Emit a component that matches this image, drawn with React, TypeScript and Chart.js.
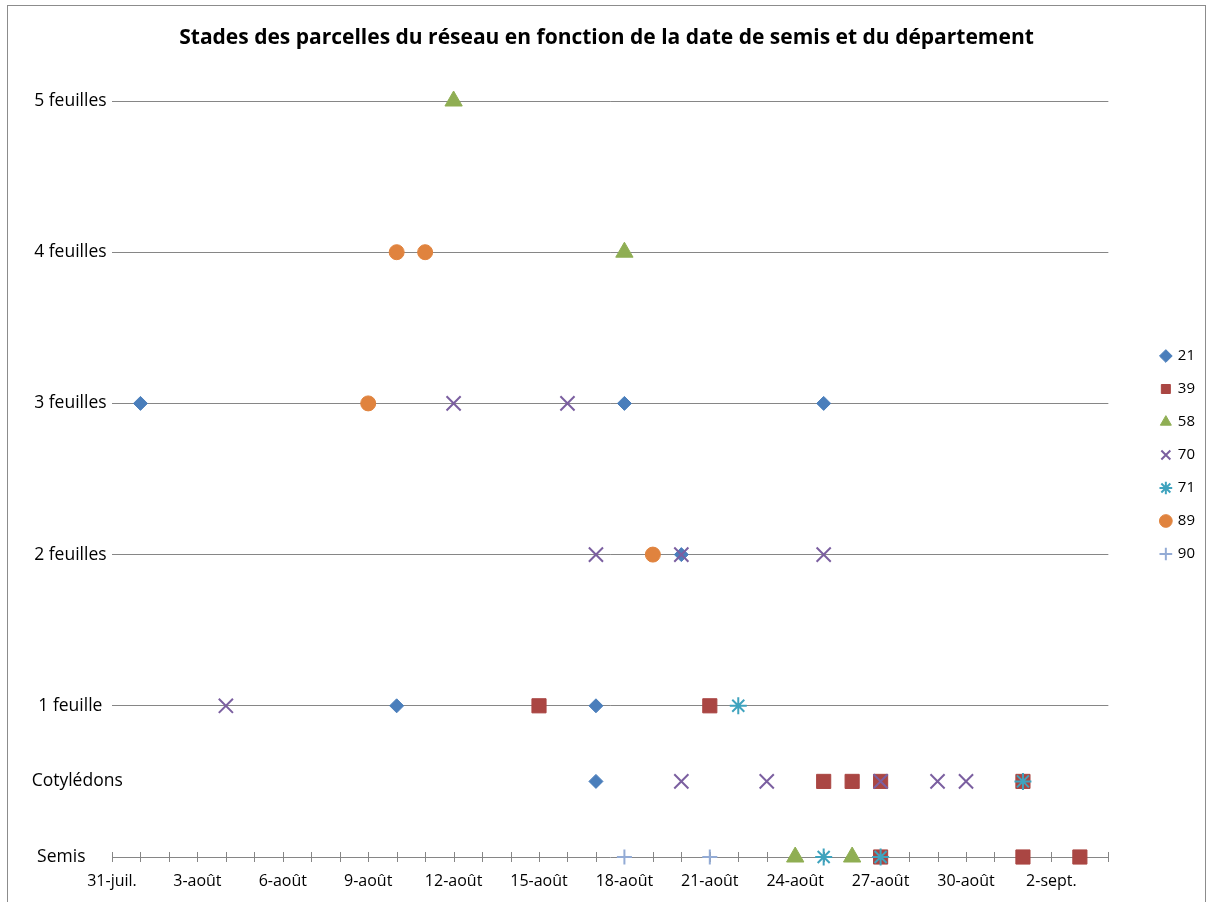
import React, { useEffect, useRef } from "react";
import { Chart, registerables } from "chart.js";

Chart.register(...registerables);

// x values = days counted from 31 juillet (0 = 31-juil., 1 = 1-août, 32 = 1-sept.)
const xTickLabels = ["31-juil.", "3-août", "6-août", "9-août", "12-août", "15-août", "18-août", "21-août", "24-août", "27-août", "30-août", "2-sept."];
const xMaxDay = 35;

const stageValues = [0, 0.5, 1, 2, 3, 4, 5];
const stageLabels = ["Semis    ", "   Cotylédons", "1 feuille", "2 feuilles", "3 feuilles", "4 feuilles", "5 feuilles"];

const departements = ["21", "39", "58", "70", "71", "89", "90"];

const serie21 = [
  { x: 1, y: 3 }, { x: 18, y: 3 }, { x: 25, y: 3 },
  { x: 20, y: 2 },
  { x: 10, y: 1 }, { x: 17, y: 1 },
  { x: 17, y: 0.5 },
];
const serie39 = [
  { x: 15, y: 1 }, { x: 21, y: 1 },
  { x: 25, y: 0.5 }, { x: 26, y: 0.5 }, { x: 27, y: 0.5 }, { x: 32, y: 0.5 },
  { x: 27, y: 0 }, { x: 32, y: 0 }, { x: 34, y: 0 },
];
const serie58 = [
  { x: 12, y: 5 },
  { x: 18, y: 4 },
  { x: 24, y: 0 }, { x: 26, y: 0 },
];
const serie70 = [
  { x: 12, y: 3 }, { x: 16, y: 3 },
  { x: 17, y: 2 }, { x: 20, y: 2 }, { x: 25, y: 2 },
  { x: 4, y: 1 },
  { x: 20, y: 0.5 }, { x: 23, y: 0.5 }, { x: 27, y: 0.5 }, { x: 29, y: 0.5 }, { x: 30, y: 0.5 },
];
const serie71 = [
  { x: 22, y: 1 },
  { x: 32, y: 0.5 },
  { x: 25, y: 0 }, { x: 27, y: 0 },
];
const serie89 = [
  { x: 10, y: 4 }, { x: 11, y: 4 },
  { x: 9, y: 3 },
  { x: 19, y: 2 },
];
const serie90 = [
  { x: 18, y: 0 }, { x: 21, y: 0 },
];

const seriesData = [serie21, serie39, serie58, serie70, serie71, serie89, serie90];
const seriesColors = ["#4A7EBB", "#AA4643", "#8FAE53", "#7B5FA0", "#3FA3BE", "#E0833E", "#93ABD5"];
const seriesStyles = ["rectRot", "rect", "triangle", "crossRot", "star", "circle", "cross"];
const seriesRadius = [7, 10, 10, 10, 8.5, 7.5, 7.5];
const seriesBorder = [1, 1, 1, 2, 2, 1, 2];

const FONT = "'Open Sans', Lato, sans-serif";
const GRID = "#868686";

const crossTicks = {
  id: "crossTicks",
  beforeDatasetsDraw(chart: any) {
    const xs = chart.scales.x;
    const y0 = chart.scales.y.getPixelForValue(0);
    const ctx = chart.ctx;
    ctx.save();
    ctx.strokeStyle = GRID;
    ctx.lineWidth = 1;
    xs.ticks.forEach((_t: any, i: number) => {
      const px = Math.round(xs.getPixelForTick(i)) + 0.5;
      ctx.beginPath();
      ctx.moveTo(px, y0 - 5);
      ctx.lineTo(px, y0 + 5);
      ctx.stroke();
    });
    ctx.restore();
  },
};

// legend a bit away from the plot area and title centred on the whole canvas, as in the original
const boxTweaks = {
  id: "boxTweaks",
  afterLayout(chart: any) {
    const L = chart.legend;
    if (L) {
      const dx = chart.chartArea.right + 35 - L.left;
      L.left += dx;
      L.right += dx;
      L.top += 4;
      L.bottom += 4;
    }
    const T = chart.titleBlock;
    if (T) {
      T.left = 0;
      T.right = chart.width;
      T.width = chart.width;
    }
  },
};

export default function App() {
  const ref = useRef<HTMLCanvasElement | null>(null);

  useEffect(() => {
    document.body.style.margin = "0";
    if (!ref.current) return;
    const chart = new Chart(ref.current, {
      type: "scatter",
      data: {
        datasets: departements.map((d, i) => ({
          label: d,
          data: seriesData[i],
          pointStyle: seriesStyles[i] as any,
          pointRadius: seriesRadius[i],
          pointHoverRadius: seriesRadius[i],
          backgroundColor: seriesColors[i],
          borderColor: seriesColors[i],
          pointBorderWidth: seriesBorder[i],
          borderWidth: seriesBorder[i],
          clip: false as any,
          order: departements.length - i,
        })),
      },
      options: {
        animation: false,
        responsive: false,
        maintainAspectRatio: false,
        layout: { padding: { top: 0, left: 0, right: 43, bottom: 0 } },
        plugins: {
          title: {
            display: true,
            text: "Stades des parcelles du réseau en fonction de la date de semis et du département",
            color: "#000",
            font: { family: FONT, size: 21, weight: "bold" },
            padding: { top: 25, bottom: 50.8 },
          },
          legend: {
            display: true,
            position: "right",
            labels: {
              usePointStyle: true,
              boxWidth: 9,
              boxHeight: 9,
              padding: 18,
              color: "#000",
              font: { family: FONT, size: 15 },
              sort: (a: any, b: any) => a.datasetIndex - b.datasetIndex,
            },
          },
          tooltip: { enabled: false },
        },
        scales: {
          x: {
            type: "linear",
            min: 0,
            max: xMaxDay,
            afterBuildTicks: (scale: any) => {
              const t = [];
              for (let d = 0; d <= xMaxDay; d++) t.push({ value: d });
              scale.ticks = t;
            },
            afterFit: (scale: any) => {
              scale.height = 45;
            },
            ticks: {
              autoSkip: false,
              maxRotation: 0,
              padding: 15,
              color: "#000",
              font: { family: FONT, size: 16 },
              callback: (v: any) => (Number(v) % 3 === 0 ? xTickLabels[Number(v) / 3] ?? "" : ""),
            },
            grid: { display: true, drawOnChartArea: false, drawTicks: false },
            border: { display: true, color: GRID, width: 1 },
          },
          y: {
            type: "linear",
            min: 0,
            max: 5,
            afterBuildTicks: (scale: any) => {
              scale.ticks = stageValues.map((v) => ({ value: v }));
            },
            afterFit: (scale: any) => {
              scale.width = 112;
            },
            ticks: {
              mirror: true,
              padding: -94,
              crossAlign: "center",
              color: "#000",
              font: { family: FONT, size: 17.5 },
              callback: (v: any) => {
                const idx = stageValues.indexOf(Number(v));
                return idx >= 0 ? stageLabels[idx] : "";
              },
            },
            grid: {
              drawTicks: false,
              color: (c: any) => (c.tick && c.tick.value >= 1 ? GRID : "rgba(0,0,0,0)"),
              lineWidth: 1,
            },
            border: { display: false },
          },
        },
      },
      plugins: [crossTicks, boxTweaks],
    });
    return () => chart.destroy();
  }, []);

  return (
    <div style={{ position: "relative", width: 1213, height: 902, overflow: "hidden", background: "#fff" }}>
      <div
        style={{
          position: "absolute",
          left: 7,
          top: 5,
          width: 1199,
          height: 940,
          border: "1.5px solid #8c8c8c",
          boxSizing: "border-box",
        }}
      />
      <canvas ref={ref} width={1213} height={902} style={{ position: "absolute", left: 0, top: 0, display: "block" }} />
    </div>
  );
}
